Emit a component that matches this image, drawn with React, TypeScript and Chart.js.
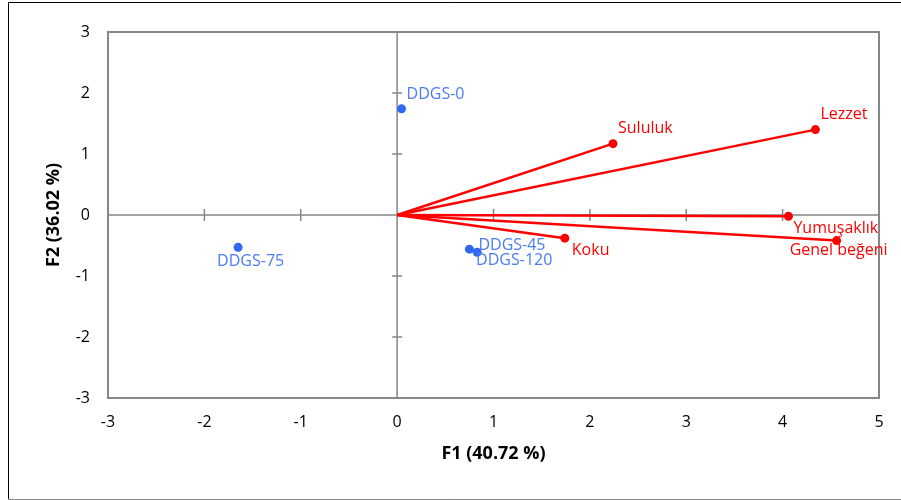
import React, { useEffect, useRef } from "react";
import { Chart, registerables } from "chart.js";

Chart.register(...registerables);

// Observations (blue points)
const obsNames = ["DDGS-0", "DDGS-75", "DDGS-45", "DDGS-120"];
const obsF1 = [0.046, -1.65, 0.75, 0.83];
const obsF2 = [1.74, -0.53, -0.56, -0.61];

// Variables (red vectors)
const varNames = ["Sululuk", "Lezzet", "Yumuşaklık", "Genel beğeni", "Koku"];
const varF1 = [2.24, 4.34, 4.06, 4.56, 1.74];
const varF2 = [1.17, 1.4, -0.02, -0.42, -0.38];

// Axis ticks
const xTicks = [-3, -2, -1, 0, 1, 2, 3, 4, 5];
const yTicks = [-3, -2, -1, 0, 1, 2, 3];

const xTitle = "F1 (40.72 %)";
const yTitle = "F2 (36.02 %)";

// label placement: [dx, dy, align]
const obsLabelPos: [number, number, CanvasTextAlign][] = [
  [5, -14, "left"],
  [-21, 14, "left"],
  [9, -4, "left"],
  [-1, 8, "left"],
];
const varLabelPos: [number, number, CanvasTextAlign][] = [
  [5, -15, "left"],
  [5, -15, "left"],
  [5, 12, "left"],
  [2, 10, "center"],
  [7, 12, "left"],
];

const BLUE = "#3068F0";
const BLUE_TEXT = "#4A7CF2";
const RED = "#FF0000";
const GRAY = "#878787";
const FONT = "'Open Sans', 'DejaVu Sans', sans-serif";

export default function App() {
  const ref = useRef<HTMLCanvasElement | null>(null);

  useEffect(() => {
    if (!ref.current) return;

    const decor = {
      id: "decor",
      beforeDraw(chart: any) {
        const ctx = chart.ctx;
        ctx.save();
        ctx.fillStyle = "#ffffff";
        ctx.fillRect(0, 0, chart.width, chart.height);
        ctx.lineWidth = 1;
        ctx.strokeStyle = "#000000";
        ctx.beginPath();
        ctx.moveTo(8.5, 499);
        ctx.lineTo(8.5, 2.5);
        ctx.lineTo(901, 2.5);
        ctx.stroke();
        ctx.strokeStyle = "#8a8a8a";
        ctx.beginPath();
        ctx.moveTo(8.5, 499.5);
        ctx.lineTo(901, 499.5);
        ctx.stroke();
        ctx.restore();
      },
      beforeDatasetsDraw(chart: any) {
        const ctx = chart.ctx;
        const xs = chart.scales.x;
        const ys = chart.scales.y;
        const a = chart.chartArea;
        const x0 = xs.getPixelForValue(0);
        const y0 = ys.getPixelForValue(0);
        ctx.save();
        ctx.strokeStyle = GRAY;
        ctx.lineWidth = 1.5;
        ctx.beginPath();
        ctx.moveTo(a.left, y0);
        ctx.lineTo(a.right, y0);
        ctx.moveTo(x0, a.top);
        ctx.lineTo(x0, a.bottom);
        for (const t of xTicks) {
          if (t === xTicks[0] || t === xTicks[xTicks.length - 1]) continue;
          const px = xs.getPixelForValue(t);
          ctx.moveTo(px, y0 - 6);
          ctx.lineTo(px, y0 + 6);
        }
        for (const t of yTicks) {
          if (t === yTicks[0] || t === yTicks[yTicks.length - 1]) continue;
          const py = ys.getPixelForValue(t);
          ctx.moveTo(x0 - 5, py);
          ctx.lineTo(x0 + 5, py);
        }
        ctx.stroke();
        ctx.lineWidth = 2;
        ctx.strokeRect(a.left, a.top, a.right - a.left, a.bottom - a.top);
        ctx.restore();
      },
      afterDatasetsDraw(chart: any) {
        const ctx = chart.ctx;
        const xs = chart.scales.x;
        const ys = chart.scales.y;
        ctx.save();
        ctx.font = `16px ${FONT}`;
        ctx.textBaseline = "middle";
        ctx.fillStyle = BLUE_TEXT;
        obsNames.forEach((n, i) => {
          const [dx, dy, al] = obsLabelPos[i];
          ctx.textAlign = al;
          ctx.fillText(n, xs.getPixelForValue(obsF1[i]) + dx, ys.getPixelForValue(obsF2[i]) + dy);
        });
        ctx.fillStyle = RED;
        varNames.forEach((n, i) => {
          const [dx, dy, al] = varLabelPos[i];
          ctx.textAlign = al;
          ctx.fillText(n, xs.getPixelForValue(varF1[i]) + dx, ys.getPixelForValue(varF2[i]) + dy);
        });
        ctx.restore();
      },
    };

    const varDatasets = varNames.map((n, i) => ({
      label: n,
      data: [
        { x: 0, y: 0 },
        { x: varF1[i], y: varF2[i] },
      ],
      showLine: true,
      borderColor: RED,
      backgroundColor: RED,
      borderWidth: 2.5,
      pointRadius: [0, 4.5],
      pointBorderWidth: 0,
      pointBackgroundColor: RED,
    }));

    const chart = new Chart(ref.current, {
      type: "scatter",
      data: {
        datasets: [
          ...varDatasets,
          {
            label: "obs",
            data: obsNames.map((_, i) => ({ x: obsF1[i], y: obsF2[i] })),
            showLine: false,
            pointRadius: 4.5,
            pointBorderWidth: 0,
            pointBackgroundColor: BLUE,
            backgroundColor: BLUE,
            borderColor: BLUE,
          } as any,
        ],
      },
      plugins: [decor],
      options: {
        animation: false,
        responsive: false,
        maintainAspectRatio: false,
        layout: { padding: { left: 0, right: 22, top: 32, bottom: 22 } },
        plugins: {
          legend: { display: false },
          tooltip: { enabled: false },
        },
        scales: {
          x: {
            type: "linear",
            min: -3,
            max: 5,
            afterBuildTicks: (s: any) => {
              s.ticks = xTicks.map((v) => ({ value: v }));
            },
            afterFit: (s: any) => {
              s.height = 80;
            },
            grid: { display: false, drawTicks: false },
            border: { display: false },
            ticks: {
              padding: 15,
              color: "#000000",
              font: { family: FONT, size: 16 },
              maxRotation: 0,
              autoSkip: false,
            },
            title: {
              display: true,
              text: xTitle,
              color: "#000000",
              font: { family: FONT, size: 18, weight: "bold" },
              padding: { top: 0, bottom: 13 },
            },
          },
          y: {
            type: "linear",
            min: -3,
            max: 3,
            afterBuildTicks: (s: any) => {
              s.ticks = yTicks.map((v) => ({ value: v }));
            },
            afterFit: (s: any) => {
              s.width = 108;
            },
            grid: { display: false, drawTicks: false },
            border: { display: false },
            ticks: {
              padding: 18,
              color: "#000000",
              font: { family: FONT, size: 16 },
              autoSkip: false,
            },
            title: {
              display: true,
              text: yTitle,
              color: "#000000",
              font: { family: FONT, size: 18, weight: "bold" },
              padding: { top: 43, bottom: 0 },
            },
          },
        },
      } as any,
    });

    return () => chart.destroy();
  }, []);

  return (
    <div style={{ position: "fixed", left: 0, top: 0, width: 901, height: 500, background: "#fff" }}>
      <canvas ref={ref} width={901} height={500} style={{ display: "block", width: 901, height: 500 }} />
    </div>
  );
}
